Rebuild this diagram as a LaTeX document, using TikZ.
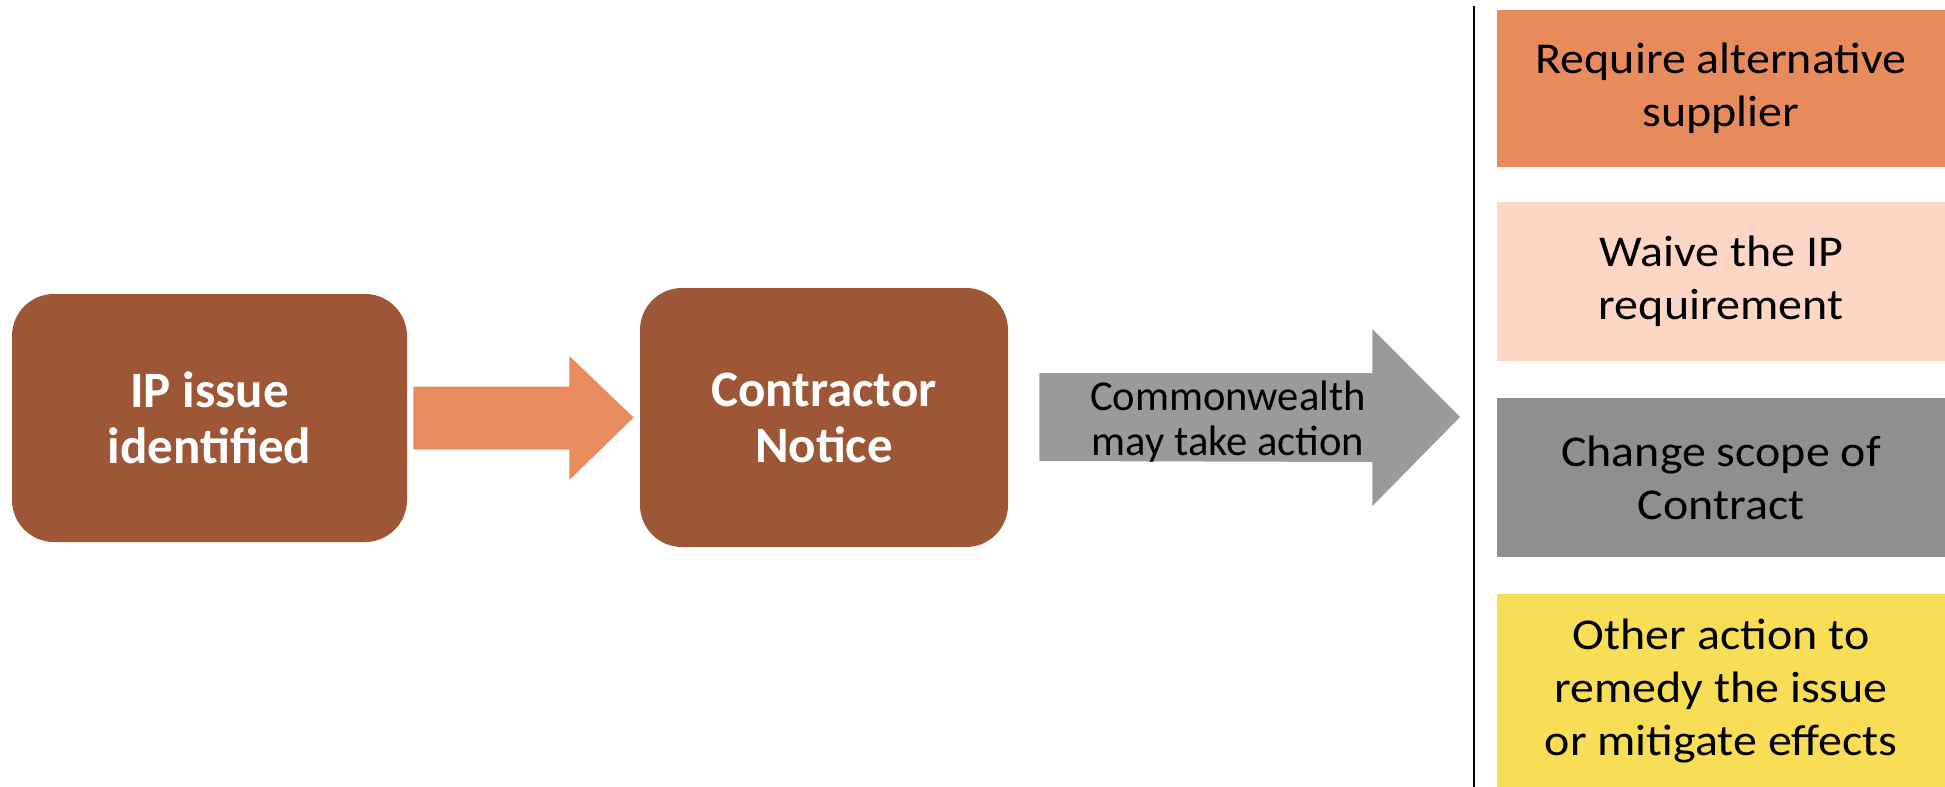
\documentclass[tikz,border=0pt]{standalone}
\usepackage{fontspec}
\setmainfont{Carlito}
\usepackage{xcolor}
\definecolor{boxbrown}{RGB}{158, 87, 54}
\definecolor{arroworange}{RGB}{232, 139, 94}
\definecolor{actionorange}{RGB}{231, 139, 93}
\definecolor{actionpeach}{RGB}{253, 214, 197}
\definecolor{actiongray}{RGB}{143, 143, 143}
\definecolor{arrowgray}{RGB}{154, 154, 154}
\definecolor{actionyellow}{RGB}{248, 221, 86}
\usetikzlibrary{positioning, calc}

\begin{document}
\begin{tikzpicture}[
        x=0.5pt, y=-0.5pt,
        stepbox/.style={rectangle, fill=boxbrown, rounded corners=21pt, align=center,
                        text=white, font=\fontsize{25.5}{28}\selectfont\bfseries, inner sep=0pt},
        action/.style={rectangle, minimum width=224pt, align=center, inner sep=0pt,
                       font=\fontsize{22}{26.5}\selectfont\addfontfeature{FakeStretch=1.09}}
    ]
        \useasboundingbox (0,0) rectangle (1945,787);

        % the two steps
        \node[stepbox, minimum width=197.5pt, minimum height=124pt] (issue) at (209.5,418) {IP issue\\identified};
        \node[stepbox, minimum width=184pt, minimum height=129.5pt] (notice) at (824,417.5) {Contractor\\Notice};

        % orange block arrow
        \fill[arroworange] ($(issue.east)+(6,-31.5)$) -- ++(156,0) -- ++(0,-30.5) -- ($(notice.west)+(-6,0)$)
            -- ($(issue.east)+(162,62)$) -- ++(0,-30.5) -- ($(issue.east)+(6,31.5)$) -- cycle;

        % gray block arrow
        \coordinate (tip) at (1460,417);
        \fill[arrowgray] ($(notice.east)+(31,-44.5)$) -- ++(333,0) -- ++(0,-44) -- (tip)
            -- ($(notice.east)+(364,88.5)$) -- ++(0,-44) -- ($(notice.east)+(31,43.5)$) -- cycle;
        \node[font=\fontsize{21.3}{22.5}\selectfont, align=center] (may) at (1228,422) {Commonwealth\\may take action};

        % divider
        \coordinate (top) at (1474,6);
        \coordinate (bottom) at (1474,787);
        \draw[line width=1pt] (top) -- (bottom);

        % possible actions
        \node[action, fill=actionorange, minimum height=78.5pt] (supplier) at (1721,88.5) {Require alternative\\supplier};
        \node[action, fill=actionpeach, minimum height=79.5pt] (waive) at (1721,281.5) {Waive the IP\\requirement};
        \node[action, fill=actiongray, minimum height=79.5pt] (scope) at (1721,477.5) {Change scope of\\Contract};
        \node[action, fill=actionyellow, minimum height=96.5pt] (other) at (1721,690.5) {Other action to\\remedy the issue\\or mitigate effects};
    \end{tikzpicture}
\end{document}
